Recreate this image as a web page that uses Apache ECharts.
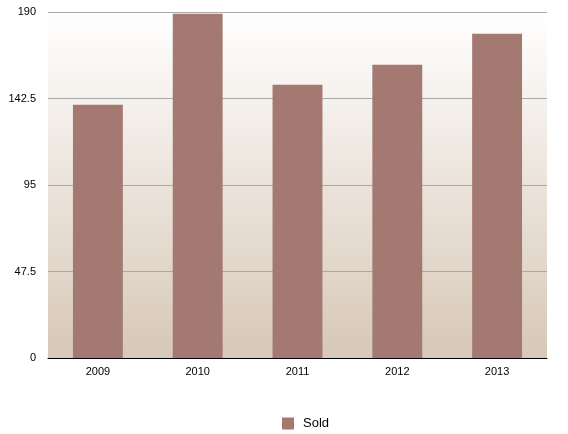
<!DOCTYPE html>
<html>
<head>
<meta charset="utf-8">
<script src="https://cdn.jsdelivr.net/npm/echarts@6/dist/echarts.min.js"></script>
<style>
  html, body { margin: 0; padding: 0; background: #fff; }
  #main { width: 568px; height: 434px; }
</style>
</head>
<body>
<div id="main"></div>
<script>
// data
var years = ['2009', '2010', '2011', '2012', '2013'];
var sold = [139, 189, 150, 161, 178];
var yTicks = [0, 47.5, 95, 142.5, 190];

var myChart = echarts.init(document.getElementById('main'));

var option = {
  animation: false,
  textStyle: { fontFamily: 'Liberation Sans, Arial, sans-serif' },
  grid: {
    left: 48, right: 21, top: 12, bottom: 76,
    show: true,
    borderWidth: 0,
    backgroundColor: new echarts.graphic.LinearGradient(0, 0, 0, 1, [
      { offset: 0, color: '#ffffff' },
      { offset: 1, color: '#d7c8b7' }
    ])
  },
  legend: {
    data: ['Sold'],
    left: 277,
    top: 412,
    icon: 'rect',
    itemWidth: 12,
    itemHeight: 12,
    itemGap: 10,
    textStyle: { fontSize: 13, color: '#000', padding: [0, 0, 0, 4] }
  },
  xAxis: {
    type: 'category',
    data: years,
    axisLine: { lineStyle: { color: '#000', width: 1 } },
    axisTick: { show: false },
    axisLabel: { color: '#000', fontSize: 11, margin: 8 }
  },
  yAxis: {
    type: 'value',
    min: yTicks[0],
    max: yTicks[yTicks.length - 1],
    interval: yTicks[1] - yTicks[0],
    axisLine: { show: false },
    axisTick: { show: false },
    axisLabel: { color: '#000', fontSize: 11, margin: 12 },
    splitLine: { lineStyle: { color: '#a9a9a9', width: 1 } }
  },
  series: [{
    name: 'Sold',
    type: 'bar',
    data: sold,
    barWidth: '50%',
    itemStyle: { color: '#a47972' }
  }]
};

myChart.setOption(option);
</script>
</body>
</html>
